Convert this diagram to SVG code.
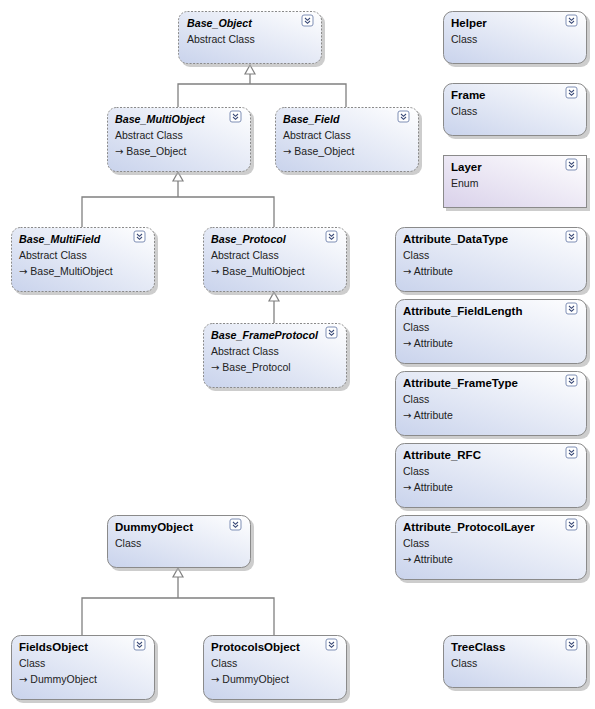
<svg xmlns="http://www.w3.org/2000/svg" width="595" height="709" viewBox="0 0 595 709">
<defs>
<linearGradient id="gc" x1="1" y1="0" x2="0" y2="1">
<stop offset="0" stop-color="#ffffff"/>
<stop offset="1" stop-color="#c9d3ec"/>
</linearGradient>
<linearGradient id="ge" x1="1" y1="0" x2="0" y2="1">
<stop offset="0" stop-color="#ffffff"/>
<stop offset="1" stop-color="#d9d1ea"/>
</linearGradient>
<g id="icon">
<rect x="0" y="0" width="11" height="11" rx="2" fill="#ffffff" stroke="#7f8fb5" stroke-width="1"/>
<path d="M3 3 L5.5 5.3 L8 3 M3 6 L5.5 8.3 L8 6" fill="none" stroke="#3a4a78" stroke-width="1.1"/>
</g>
</defs>
<style>
.sh{fill:#acacac;opacity:0.6}
.cls{fill:url(#gc);stroke:#8a8a8a;stroke-width:1}
.abs{fill:url(#gc);stroke:#8a8a8a;stroke-width:1;stroke-dasharray:2 1.5}
.enm{fill:url(#ge);stroke:#8a8a8a;stroke-width:1}
.t{font-family:"Liberation Sans",Arial,sans-serif;font-size:11.5px;font-weight:bold;fill:#000}
.ti{font-family:"Liberation Sans",Arial,sans-serif;font-size:10.7px;font-weight:bold;font-style:italic;fill:#000}
.s{font-family:"Liberation Sans",Arial,sans-serif;font-size:10.5px;fill:#222}
.a{font-family:"DejaVu Sans",sans-serif;font-size:10px}
.ln{fill:none;stroke:#808080;stroke-width:1.3}
.tri{fill:#ffffff;stroke:#808080;stroke-width:1.2}
</style>

<g id="connectors">
<path class="ln" d="M250 73 V84 M178 107 V84 H346 V107"/>
<path class="tri" d="M250 65 L255 74 L245 74 Z"/>
<path class="ln" d="M178 181 V197 M82 227 V197 H274 V227"/>
<path class="tri" d="M178 172 L183 181 L173 181 Z"/>
<path class="ln" d="M274 301 V323"/>
<path class="tri" d="M274 292 L279 301 L269 301 Z"/>
<path class="ln" d="M178 577 V598 M82 635 V598 H274 V635"/>
<path class="tri" d="M178 568 L183 577 L173 577 Z"/>
</g>

<g id="Base_Object">
<rect class="sh" x="181" y="14" width="144" height="53" rx="9"/>
<rect class="abs" x="178.5" y="11.5" width="143" height="52" rx="9"/>
<text class="ti" x="187" y="27">Base_Object</text>
<text class="s" x="187" y="43">Abstract Class</text>
<use href="#icon" x="302" y="15"/>
</g>

<g id="Base_MultiObject">
<rect class="sh" x="110" y="110" width="144" height="65" rx="9"/>
<rect class="abs" x="107.5" y="107.5" width="143" height="64" rx="9"/>
<text class="ti" x="115" y="123">Base_MultiObject</text>
<text class="s" x="115" y="139">Abstract Class</text>
<text class="s" x="115" y="155"><tspan class="a">→</tspan> Base_Object</text>
<use href="#icon" x="230" y="111"/>
</g>

<g id="Base_Field">
<rect class="sh" x="278" y="110" width="144" height="65" rx="9"/>
<rect class="abs" x="275.5" y="107.5" width="143" height="64" rx="9"/>
<text class="ti" x="283" y="123">Base_Field</text>
<text class="s" x="283" y="139">Abstract Class</text>
<text class="s" x="283" y="155"><tspan class="a">→</tspan> Base_Object</text>
<use href="#icon" x="398" y="111"/>
</g>

<g id="Base_MultiField">
<rect class="sh" x="14" y="230" width="144" height="65" rx="9"/>
<rect class="abs" x="11.5" y="227.5" width="143" height="64" rx="9"/>
<text class="ti" x="19" y="243">Base_MultiField</text>
<text class="s" x="19" y="259">Abstract Class</text>
<text class="s" x="19" y="275"><tspan class="a">→</tspan> Base_MultiObject</text>
<use href="#icon" x="134" y="231"/>
</g>

<g id="Base_Protocol">
<rect class="sh" x="206" y="230" width="144" height="65" rx="9"/>
<rect class="abs" x="203.5" y="227.5" width="143" height="64" rx="9"/>
<text class="ti" x="211" y="243">Base_Protocol</text>
<text class="s" x="211" y="259">Abstract Class</text>
<text class="s" x="211" y="275"><tspan class="a">→</tspan> Base_MultiObject</text>
<use href="#icon" x="326" y="231"/>
</g>

<g id="Base_FrameProtocol">
<rect class="sh" x="206" y="326" width="144" height="65" rx="9"/>
<rect class="abs" x="203.5" y="323.5" width="143" height="64" rx="9"/>
<text class="ti" x="211" y="339">Base_FrameProtocol</text>
<text class="s" x="211" y="355">Abstract Class</text>
<text class="s" x="211" y="371"><tspan class="a">→</tspan> Base_Protocol</text>
<use href="#icon" x="326" y="327"/>
</g>

<g id="Helper">
<rect class="sh" x="446" y="14" width="144" height="53" rx="9"/>
<rect class="cls" x="443.5" y="11.5" width="143" height="52" rx="9"/>
<text class="t" x="451" y="27">Helper</text>
<text class="s" x="451" y="43">Class</text>
<use href="#icon" x="566" y="15"/>
</g>

<g id="Frame">
<rect class="sh" x="446" y="86" width="144" height="53" rx="9"/>
<rect class="cls" x="443.5" y="83.5" width="143" height="52" rx="9"/>
<text class="t" x="451" y="99">Frame</text>
<text class="s" x="451" y="115">Class</text>
<use href="#icon" x="566" y="87"/>
</g>

<g id="Layer">
<rect class="sh" x="446" y="158" width="144" height="53"/>
<rect class="enm" x="443.5" y="155.5" width="143" height="52"/>
<text class="t" x="451" y="171">Layer</text>
<text class="s" x="451" y="187">Enum</text>
<use href="#icon" x="566" y="159"/>
</g>

<g id="Attribute_DataType">
<rect class="sh" x="398" y="230" width="192" height="65" rx="9"/>
<rect class="cls" x="395.5" y="227.5" width="191" height="64" rx="9"/>
<text class="t" x="403" y="243">Attribute_DataType</text>
<text class="s" x="403" y="259">Class</text>
<text class="s" x="403" y="275"><tspan class="a">→</tspan> Attribute</text>
<use href="#icon" x="566" y="231"/>
</g>

<g id="Attribute_FieldLength">
<rect class="sh" x="398" y="302" width="192" height="65" rx="9"/>
<rect class="cls" x="395.5" y="299.5" width="191" height="64" rx="9"/>
<text class="t" x="403" y="315">Attribute_FieldLength</text>
<text class="s" x="403" y="331">Class</text>
<text class="s" x="403" y="347"><tspan class="a">→</tspan> Attribute</text>
<use href="#icon" x="566" y="303"/>
</g>

<g id="Attribute_FrameType">
<rect class="sh" x="398" y="374" width="192" height="65" rx="9"/>
<rect class="cls" x="395.5" y="371.5" width="191" height="64" rx="9"/>
<text class="t" x="403" y="387">Attribute_FrameType</text>
<text class="s" x="403" y="403">Class</text>
<text class="s" x="403" y="419"><tspan class="a">→</tspan> Attribute</text>
<use href="#icon" x="566" y="375"/>
</g>

<g id="Attribute_RFC">
<rect class="sh" x="398" y="446" width="192" height="65" rx="9"/>
<rect class="cls" x="395.5" y="443.5" width="191" height="64" rx="9"/>
<text class="t" x="403" y="459">Attribute_RFC</text>
<text class="s" x="403" y="475">Class</text>
<text class="s" x="403" y="491"><tspan class="a">→</tspan> Attribute</text>
<use href="#icon" x="566" y="447"/>
</g>

<g id="Attribute_ProtocolLayer">
<rect class="sh" x="398" y="518" width="192" height="65" rx="9"/>
<rect class="cls" x="395.5" y="515.5" width="191" height="64" rx="9"/>
<text class="t" x="403" y="531">Attribute_ProtocolLayer</text>
<text class="s" x="403" y="547">Class</text>
<text class="s" x="403" y="563"><tspan class="a">→</tspan> Attribute</text>
<use href="#icon" x="566" y="519"/>
</g>

<g id="DummyObject">
<rect class="sh" x="110" y="518" width="144" height="53" rx="9"/>
<rect class="cls" x="107.5" y="515.5" width="143" height="52" rx="9"/>
<text class="t" x="115" y="531">DummyObject</text>
<text class="s" x="115" y="547">Class</text>
<use href="#icon" x="230" y="519"/>
</g>

<g id="FieldsObject">
<rect class="sh" x="14" y="638" width="144" height="65" rx="9"/>
<rect class="cls" x="11.5" y="635.5" width="143" height="64" rx="9"/>
<text class="t" x="19" y="651">FieldsObject</text>
<text class="s" x="19" y="667">Class</text>
<text class="s" x="19" y="683"><tspan class="a">→</tspan> DummyObject</text>
<use href="#icon" x="134" y="639"/>
</g>

<g id="ProtocolsObject">
<rect class="sh" x="206" y="638" width="144" height="65" rx="9"/>
<rect class="cls" x="203.5" y="635.5" width="143" height="64" rx="9"/>
<text class="t" x="211" y="651">ProtocolsObject</text>
<text class="s" x="211" y="667">Class</text>
<text class="s" x="211" y="683"><tspan class="a">→</tspan> DummyObject</text>
<use href="#icon" x="326" y="639"/>
</g>

<g id="TreeClass">
<rect class="sh" x="446" y="638" width="144" height="53" rx="9"/>
<rect class="cls" x="443.5" y="635.5" width="143" height="52" rx="9"/>
<text class="t" x="451" y="651">TreeClass</text>
<text class="s" x="451" y="667">Class</text>
<use href="#icon" x="566" y="639"/>
</g>
</svg>
